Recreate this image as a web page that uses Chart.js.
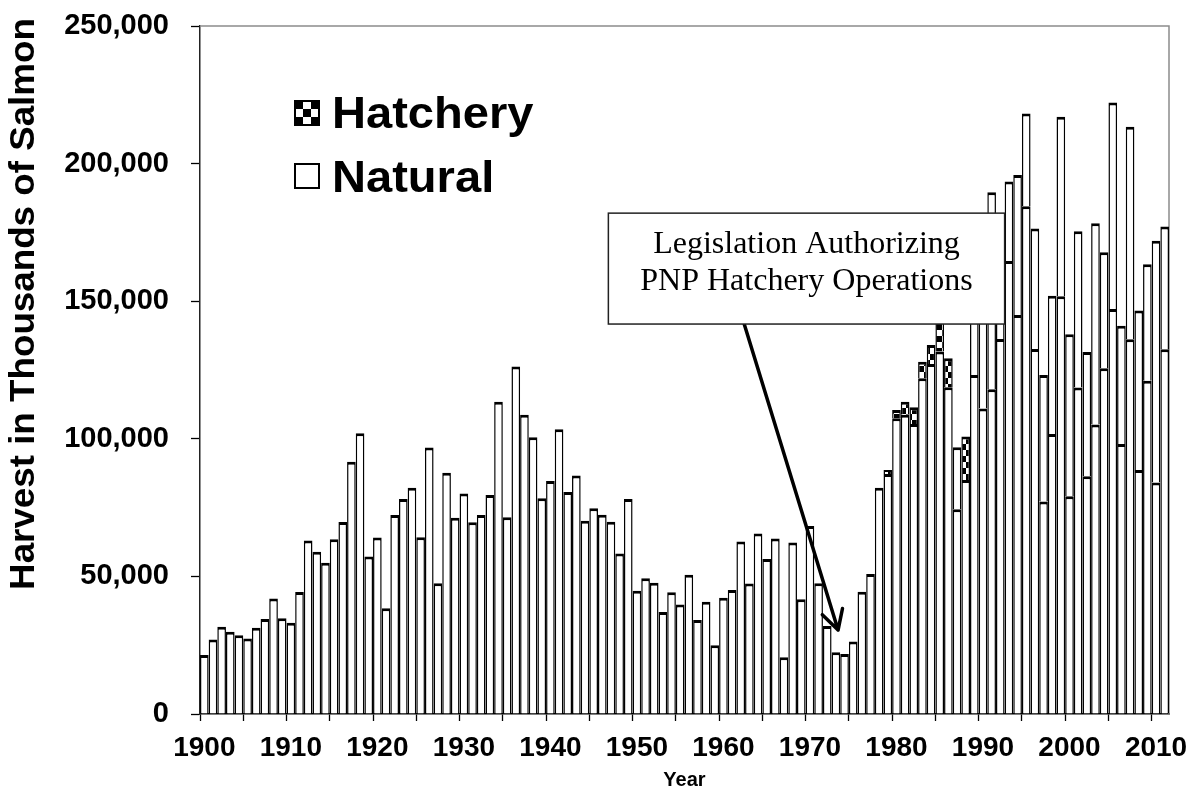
<!DOCTYPE html>
<html lang="en">
<head>
<meta charset="UTF-8">
<title>Salmon Harvest</title>
<script src="https://cdn.jsdelivr.net/npm/chart.js@4"></script>
<style>
  html, body { margin: 0; padding: 0; background: #fff; }
</style>
</head>
<body>
<canvas id="chart" width="1193" height="793"></canvas>
<script>
// years 1900-2011, one bar each
const years = Array.from({length: 112}, (_, i) => String(1900 + i));

// thousands of salmon
const natural = [
  21400, 27100, 31700, 29900, 28600, 27400, 31300, 34500, 42000, 34800,
  33200, 44300, 63000, 59000, 55000, 63500, 69800, 91700, 102000, 57200,
  64100, 38400, 72300, 78100, 82200, 64200, 96800, 47500, 87700, 71300,
  80100, 69700, 72300, 79600, 113500, 71500, 126300, 108700, 100600, 78400,
  84700, 103500, 80700, 86700, 70200, 74800, 72400, 69900, 58300, 78100,
  44800, 49300, 47700, 37100, 44200, 39800, 50600, 34200, 40800, 25000,
  42200, 45100, 62700, 47400, 65600, 56300, 63800, 20600, 62300, 41700,
  68300, 47500, 32000, 22400, 21800, 26300, 44400, 50900, 82200, 87200,
  107500, 108700, 105400, 122000, 127200, 131700, 118700, 74400, 85000, 123200,
  111000, 118000, 136300, 164600, 145000, 184500, 132600, 77200, 101700, 151800,
  79100, 118600, 86400, 105200, 125600, 147200, 98100, 136200, 88700, 121100,
  84100, 132500
];

const hatchery = [
  0, 0, 0, 0, 0, 0, 0, 0, 0, 0,
  0, 0, 0, 0, 0, 0, 0, 0, 0, 0,
  0, 0, 0, 0, 0, 0, 0, 0, 0, 0,
  0, 0, 0, 0, 0, 0, 0, 0, 0, 0,
  0, 0, 0, 0, 0, 0, 0, 0, 0, 0,
  0, 0, 0, 0, 0, 0, 0, 0, 0, 0,
  0, 0, 0, 0, 0, 0, 0, 0, 0, 0,
  0, 0, 0, 0, 0, 0, 0, 0, 0, 1500,
  3000, 4800, 6100, 6000, 6900, 14300, 10600, 22500, 15800, 30800,
  42000, 71600, 23700, 28900, 50900, 33700, 43800, 46000, 50300, 65200,
  58900, 56800, 45100, 73100, 42200, 75000, 43000, 77200, 57900, 42300,
  87900, 44600
];

const yMax = 250000;
const yStep = 50000;

const FONT = 'Arial, "Liberation Sans", sans-serif';

// checkered fill for the hatchery segments
function makeChecker(cell) {
  const c = document.createElement('canvas');
  c.width = cell * 2;
  c.height = cell * 2;
  const g = c.getContext('2d');
  g.fillStyle = '#fff';
  g.fillRect(0, 0, c.width, c.height);
  g.fillStyle = '#000';
  g.fillRect(0, 0, cell, cell);
  g.fillRect(cell, cell, cell, cell);
  return g.createPattern(c, 'repeat');
}
const hatchPattern = makeChecker(6);

const barBorder = {top: 3, left: 1.5, right: 1.5, bottom: 0};

const plotFrame = {
  id: 'plotFrame',
  beforeDatasetsDraw(chart) {
    const {ctx, chartArea: a} = chart;
    ctx.save();
    ctx.strokeStyle = '#8c8c8c';
    ctx.lineWidth = 1.5;
    ctx.beginPath();
    ctx.moveTo(a.left, a.top);
    ctx.lineTo(a.right, a.top);
    ctx.lineTo(a.right, a.bottom);
    ctx.stroke();
    ctx.restore();
  }
};

const legendBox = {
  id: 'legendBox',
  afterDatasetsDraw(chart) {
    const {ctx, chartArea: a} = chart;
    const x0 = a.left + 95;
    const s = 24;
    ctx.save();
    // hatchery swatch: 3x3 checker
    let y0 = a.top + 75;
    ctx.fillStyle = '#fff';
    ctx.fillRect(x0, y0, s, s);
    ctx.fillStyle = '#000';
    const c = s / 3;
    for (let r = 0; r < 3; r++) {
      for (let k = 0; k < 3; k++) {
        if ((r + k) % 2 === 0) ctx.fillRect(x0 + k * c, y0 + r * c, c, c);
      }
    }
    ctx.strokeStyle = '#000';
    ctx.lineWidth = 2;
    ctx.strokeRect(x0, y0, s, s);
    // natural swatch
    y0 = a.top + 138;
    ctx.fillStyle = '#fff';
    ctx.fillRect(x0, y0, s, s);
    ctx.strokeRect(x0, y0, s, s);

    ctx.fillStyle = '#000';
    ctx.font = 'bold 44px ' + FONT;
    ctx.textBaseline = 'alphabetic';
    ctx.textAlign = 'left';
    const drawStretched = (txt, x, y) => {
      ctx.save();
      ctx.translate(x, y);
      ctx.scale(1.07, 1);
      ctx.fillText(txt, 0, 0);
      ctx.restore();
    };
    drawStretched('Hatchery', x0 + 37, a.top + 102);
    drawStretched('Natural', x0 + 37, a.top + 166);
    ctx.restore();
  }
};

const callout = {
  id: 'callout',
  afterDatasetsDraw(chart) {
    const {ctx} = chart;
    const xs = chart.scales.x, ys = chart.scales.y;
    const step = xs.width / years.length;
    const px = v => xs.left + (v - 1900) * step;
    const py = v => ys.getPixelForValue(v);

    // arrow from the box down to the 1973/74 low
    const sx = px(1962.9), sy = py(141700);
    const tx = px(1973.75), ty = py(30500);
    ctx.save();
    ctx.strokeStyle = '#000';
    ctx.lineWidth = 3.5;
    ctx.lineCap = 'round';
    ctx.beginPath();
    ctx.moveTo(sx, sy);
    ctx.lineTo(tx, ty);
    const ang = Math.atan2(ty - sy, tx - sx);
    const len = 22;
    for (const d of [0.5, -0.5]) {
      ctx.moveTo(tx, ty);
      ctx.lineTo(tx - len * Math.cos(ang + d), ty - len * Math.sin(ang + d));
    }
    ctx.stroke();

    // text box
    const bl = px(1947.2), br = px(1993.0);
    const bt = py(182000), bb = py(141700);
    ctx.fillStyle = '#fff';
    ctx.fillRect(bl, bt, br - bl, bb - bt);
    ctx.strokeStyle = '#222';
    ctx.lineWidth = 1.5;
    ctx.strokeRect(bl, bt, br - bl, bb - bt);
    ctx.fillStyle = '#000';
    ctx.font = '32px "Liberation Serif", "Times New Roman", serif';
    ctx.textAlign = 'center';
    ctx.textBaseline = 'alphabetic';
    const cx = (bl + br) / 2;
    ctx.fillText('Legislation Authorizing', cx, bt + 40);
    ctx.fillText('PNP Hatchery Operations', cx, bt + 77);
    ctx.restore();
  }
};

const yTitle = {
  id: 'yTitle',
  afterDraw(chart) {
    const {ctx} = chart;
    ctx.save();
    ctx.translate(24, 304);
    ctx.rotate(-Math.PI / 2);
    ctx.scale(1.05, 1);
    ctx.fillStyle = '#000';
    ctx.font = 'bold 35px ' + FONT;
    ctx.textAlign = 'center';
    ctx.textBaseline = 'middle';
    ctx.fillText('Harvest in Thousands of Salmon', 0, 0);
    ctx.restore();
  }
};

new Chart(document.getElementById('chart'), {
  type: 'bar',
  data: {
    labels: years,
    datasets: [
      {
        label: 'Natural',
        data: natural,
        backgroundColor: '#fff',
        borderColor: '#000',
        borderWidth: barBorder,
        borderSkipped: false,
        inflateAmount: 0,
        barPercentage: 1,
        categoryPercentage: 1
      },
      {
        label: 'Hatchery',
        data: hatchery,
        backgroundColor: c => (c.raw > 0 && c.raw < 20000 ? hatchPattern : '#fff'),
        borderColor: '#000',
        borderWidth: barBorder,
        borderSkipped: false,
        inflateAmount: 0,
        barPercentage: 1,
        categoryPercentage: 1
      }
    ]
  },
  options: {
    responsive: false,
    animation: false,
    devicePixelRatio: 1,
    layout: {padding: {top: 26, right: 24, left: 0, bottom: 0}},
    plugins: {
      legend: {display: false},
      tooltip: {enabled: false}
    },
    scales: {
      x: {
        stacked: true,
        z: 1,
        grid: {
          offset: true,
          drawOnChartArea: false,
          tickLength: 7,
          tickWidth: 1.3,
          color: c => (c.index % 5 === 0 ? '#000' : 'rgba(0,0,0,0)')
        },
        border: {display: true, color: '#000', width: 1.5},
        ticks: {
          autoSkip: false,
          maxRotation: 0,
          minRotation: 0,
          padding: 10,
          color: '#000',
          font: {family: FONT, size: 28, weight: 'bold'},
          callback: (v, i) => (Number(years[i]) % 10 === 0 ? years[i] : '')
        },
        title: {
          display: true,
          text: 'Year',
          color: '#000',
          font: {family: FONT, size: 20, weight: 'bold'},
          padding: {top: 0, bottom: 1}
        },
        afterFit: s => { s.height = 79; s.paddingLeft = 0; s.paddingRight = 0; }
      },
      y: {
        stacked: true,
        z: 1,
        min: 0,
        max: yMax,
        grid: {
          drawOnChartArea: false,
          tickLength: 9,
          tickWidth: 1.3,
          color: '#000'
        },
        border: {display: true, color: '#222', width: 1.5},
        ticks: {
          stepSize: yStep,
          padding: 22,
          color: '#000',
          font: {family: FONT, size: 29, weight: 'bold'},
          callback: v => v.toLocaleString('en-US')
        },
        afterFit: s => { s.width = 200; s.paddingTop = 0; s.paddingBottom = 0; }
      }
    }
  },
  plugins: [plotFrame, legendBox, callout, yTitle]
});
</script>
</body>
</html>
